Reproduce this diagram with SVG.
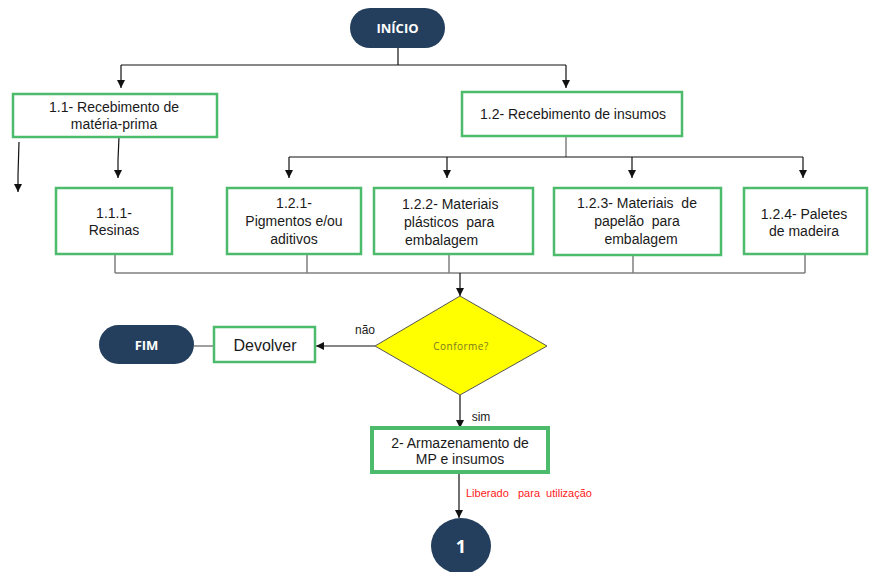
<svg xmlns="http://www.w3.org/2000/svg" width="869" height="572" viewBox="0 0 869 572">
<style>
.box{fill:#fff;stroke:#4cbb6c;stroke-width:2.5}
.t{font-family:"Liberation Sans",Arial,sans-serif;font-size:14px;fill:#1a1a1a;text-anchor:middle}
.s{text-anchor:start}
.term{fill:#243f5e}
.tw{font-family:"Open Sans","Liberation Sans",sans-serif;font-weight:bold;font-size:13px;fill:#fff;text-anchor:middle}
.ar{fill:none;stroke:#111;stroke-width:1.2;marker-end:url(#ah)}
.ln{fill:none;stroke:#111;stroke-width:1.2}
.gl{fill:none;stroke:#808080;stroke-width:1.5}
</style>
<defs>
<marker id="ah" viewBox="0 0 10 10" refX="10" refY="5" markerWidth="8" markerHeight="8" markerUnits="userSpaceOnUse" orient="auto">
<path d="M0,0 L10,5 L0,10 z" fill="#111"/>
</marker>
</defs>
<rect width="869" height="572" fill="#fff"/>
<g id="connectors">
<path class="ln" d="M398,48 V65"/>
<path class="ln" d="M121,65 H566"/>
<path class="ar" d="M121,65 V88"/>
<path class="ar" d="M566,65 V88"/>
<path class="ar" d="M19,142 L18,175 V192"/>
<path class="ar" d="M119,137 L118,160 V178"/>
<path class="gl" d="M566,136 V157"/>
<path class="ln" d="M289,157 H803"/>
<path class="ar" d="M289,157 V178"/>
<path class="ar" d="M447,157 V178"/>
<path class="ar" d="M632,157 V178"/>
<path class="ar" d="M803,157 V178"/>
<path class="gl" d="M115,254 V273 M307,254 V273 M449,254 V273 M633,255 V273 M805,254 V273 M115,273 H805"/>
<path class="ar" d="M460,273 V296"/>
<path class="ar" d="M375,346 H316"/>
<path class="gl" d="M194,346 H214"/>
<path class="ar" d="M460,395 V428"/>
<path class="ar" d="M459,472 V518"/>
<text x="365" y="334" class="t" style="font-size:12px">não</text>
<text x="481" y="421" class="t" style="font-size:12px">sim</text>
<text x="466" y="497" style="font-family:'Liberation Sans',Arial,sans-serif;font-size:11px;fill:#ff1a1a" xml:space="preserve">Liberado   para  utilização</text>
</g>
<g id="inicio">
<rect x="350" y="8" width="95" height="40" rx="20" class="term"/>
<text x="397.5" y="33" class="tw">INÍCIO</text>
</g>
<g id="n1_1">
<rect x="13" y="94" width="204" height="43" class="box"/>
<text x="114" y="112" class="t">1.1- Recebimento de</text>
<text x="114" y="129" class="t">matéria-prima</text>
</g>
<g id="n1_2">
<rect x="462" y="92" width="220" height="44" class="box"/>
<text x="573" y="119" class="t">1.2- Recebimento de insumos</text>
</g>
<g id="n1_1_1">
<rect x="56" y="188" width="116" height="66" class="box"/>
<text x="114" y="218" class="t">1.1.1-</text>
<text x="114" y="235" class="t">Resinas</text>
</g>
<g id="n1_2_1">
<rect x="227" y="188" width="134" height="66" class="box"/>
<text x="294" y="208" class="t">1.2.1-</text>
<text x="294" y="226" class="t">Pigmentos e/ou</text>
<text x="294" y="244" class="t">aditivos</text>
</g>
<g id="n1_2_2">
<rect x="374" y="188" width="159" height="66" class="box"/>
<text x="402" y="209" class="t s">1.2.2- Materiais</text>
<text x="404" y="227" class="t s" xml:space="preserve">plásticos  para</text>
<text x="405" y="245" class="t s">embalagem</text>
</g>
<g id="n1_2_3">
<rect x="554" y="188" width="167" height="67" class="box"/>
<text x="637" y="208" class="t" xml:space="preserve">1.2.3- Materiais  de</text>
<text x="637" y="226" class="t" xml:space="preserve">papelão  para</text>
<text x="641" y="244" class="t">embalagem</text>
</g>
<g id="n1_2_4">
<rect x="744" y="188" width="123" height="66" class="box"/>
<text x="804" y="219" class="t">1.2.4- Paletes</text>
<text x="804" y="236" class="t">de madeira</text>
</g>
<g id="conforme">
<polygon points="460,296 547,346 460,395 375,346" fill="#ffff00" stroke="#555" stroke-width="1"/>
<text x="461" y="350" style="font-family:'Open Sans','Liberation Sans',sans-serif;font-size:10px;fill:#7a7a20;text-anchor:middle;letter-spacing:0.5px">Conforme?</text>
</g>
<g id="devolver">
<rect x="214" y="327" width="101" height="35" class="box"/>
<text x="265" y="351" class="t" style="font-size:16px">Devolver</text>
</g>
<g id="fim">
<rect x="99" y="325" width="95" height="39" rx="19.5" class="term"/>
<text x="146.5" y="350" class="tw">FIM</text>
</g>
<g id="n2">
<rect x="372" y="428" width="176" height="44" fill="#fff" stroke="#4cbb6c" stroke-width="4"/>
<rect x="374.5" y="430.5" width="171" height="39" fill="none" stroke="#fff" stroke-width="1"/>
<text x="460" y="448" class="t">2- Armazenamento de</text>
<text x="460" y="464" class="t">MP e insumos</text>
</g>
<g id="c1">
<ellipse cx="461" cy="546" rx="30" ry="28" class="term"/>
<text x="461" y="553" class="tw" style="font-size:18px">1</text>
</g>
</svg>
